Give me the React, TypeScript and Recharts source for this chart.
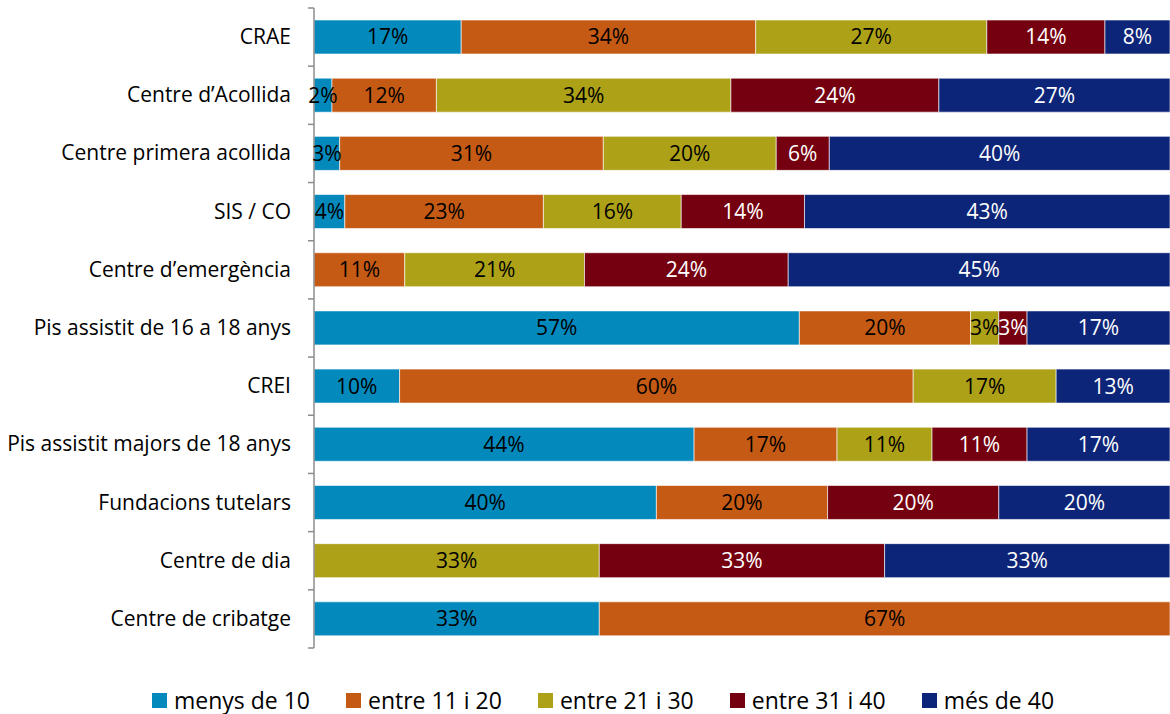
import { Bar, BarChart, LabelList, Legend, XAxis, YAxis } from 'recharts';

const categories = [
    'CRAE',
    'Centre d\u2019Acollida',
    'Centre primera acollida',
    'SIS / CO',
    'Centre d\u2019emergència',
    'Pis assistit de 16 a 18 anys',
    'CREI',
    'Pis assistit majors de 18 anys',
    'Fundacions tutelars',
    'Centre de dia',
    'Centre de cribatge',
];

const menysDe10 = [17.2, 2.1, 3.0, 3.6, 0, 56.7, 10.0, 44.4, 40, 0, 33.33];
const entre11i20 = [34.4, 12.2, 30.8, 23.2, 10.6, 20.0, 60.0, 16.7, 20, 0, 66.67];
const entre21i30 = [27.0, 34.4, 20.2, 16.1, 21.0, 3.3, 16.7, 11.1, 0, 33.33, 0];
const entre31i40 = [13.8, 24.3, 6.2, 14.4, 23.8, 3.3, 0, 11.1, 20, 33.33, 0];
const mesDe40 = [7.6, 27.0, 39.8, 42.7, 44.6, 16.7, 13.3, 16.7, 20, 33.33, 0];

const series = [
    { key: 'menys de 10', values: menysDe10, color: '#0389BC', text: '#000' },
    { key: 'entre 11 i 20', values: entre11i20, color: '#C55A14', text: '#000' },
    { key: 'entre 21 i 30', values: entre21i30, color: '#ADA118', text: '#000' },
    { key: 'entre 31 i 40', values: entre31i40, color: '#75000F', text: '#fff' },
    { key: 'més de 40', values: mesDe40, color: '#0D2578', text: '#fff' },
];

const data = categories.map((name, i) => {
    const row: Record<string, string | number> = { name };
    series.forEach((s) => {
        row[s.key] = s.values[i];
    });
    return row;
});

const FONT = '"Open Sans", "Liberation Sans", sans-serif';
const TOP = 8;
const BOTTOM = 66;
const HEIGHT = 714;
const BAND = (HEIGHT - TOP - BOTTOM) / categories.length;

function CategoryTick(props: any) {
    const { x, y, payload, index } = props;
    const axisX = x + 8;
    const top = y - BAND / 2;
    return (
        <g>
            <line x1={axisX - 6} x2={axisX} y1={top} y2={top} stroke="#8c8c8c" strokeWidth={1.5} />
            {index === categories.length - 1 && (
                <line x1={axisX - 6} x2={axisX} y1={top + BAND} y2={top + BAND} stroke="#8c8c8c" strokeWidth={1.5} />
            )}
            <text x={axisX - 23} y={y} dy={7} textAnchor="end" fill="#000" fontSize={21} fontFamily={FONT}>
                {payload.value}
            </text>
        </g>
    );
}

function LegendContent() {
    return (
        <div
            style={{
                height: BOTTOM,
                display: 'flex',
                justifyContent: 'center',
                alignItems: 'flex-end',
                boxSizing: 'border-box',
                paddingLeft: 36,
                paddingBottom: 0,
            }}
        >
            {series.map((s) => (
                <div key={s.key} style={{ display: 'flex', alignItems: 'center', margin: '0 18px' }}>
                    <span style={{ width: 15, height: 15, background: s.color, display: 'inline-block', marginRight: 7 }} />
                    <span style={{ fontFamily: FONT, fontSize: 23, color: '#000', lineHeight: '28px' }}>{s.key}</span>
                </div>
            ))}
        </div>
    );
}

export default function App() {
    return (
        <div style={{ width: 1170, height: 714 }}>
            <style>{'body{margin:0}'}</style>
            <BarChart
                width={1170}
                height={714}
                data={data}
                layout="vertical"
                margin={{ top: TOP, right: 0, left: 0, bottom: 0 }}
            >
                <XAxis type="number" domain={[0, 100]} hide allowDataOverflow />
                <YAxis
                    type="category"
                    dataKey="name"
                    width={314}
                    axisLine={{ stroke: '#8c8c8c', strokeWidth: 1.5 }}
                    tickLine={false}
                    tick={<CategoryTick />}
                    interval={0}
                />
                <Legend verticalAlign="bottom" height={BOTTOM} content={<LegendContent />} />
                {series.map((s) => (
                    <Bar
                        key={s.key}
                        dataKey={s.key}
                        stackId="a"
                        fill={s.color}
                        stroke="#ffffff"
                        strokeWidth={0.6}
                        barSize={34}
                        isAnimationActive={false}
                    >
                        <LabelList
                            dataKey={s.key}
                            position="center"
                            fill={s.text}
                            fontSize={21}
                            fontFamily={FONT}
                            formatter={(v: any) => (v > 0 ? `${Math.round(v)}%` : '')}
                        />
                    </Bar>
                ))}
            </BarChart>
        </div>
    );
}
